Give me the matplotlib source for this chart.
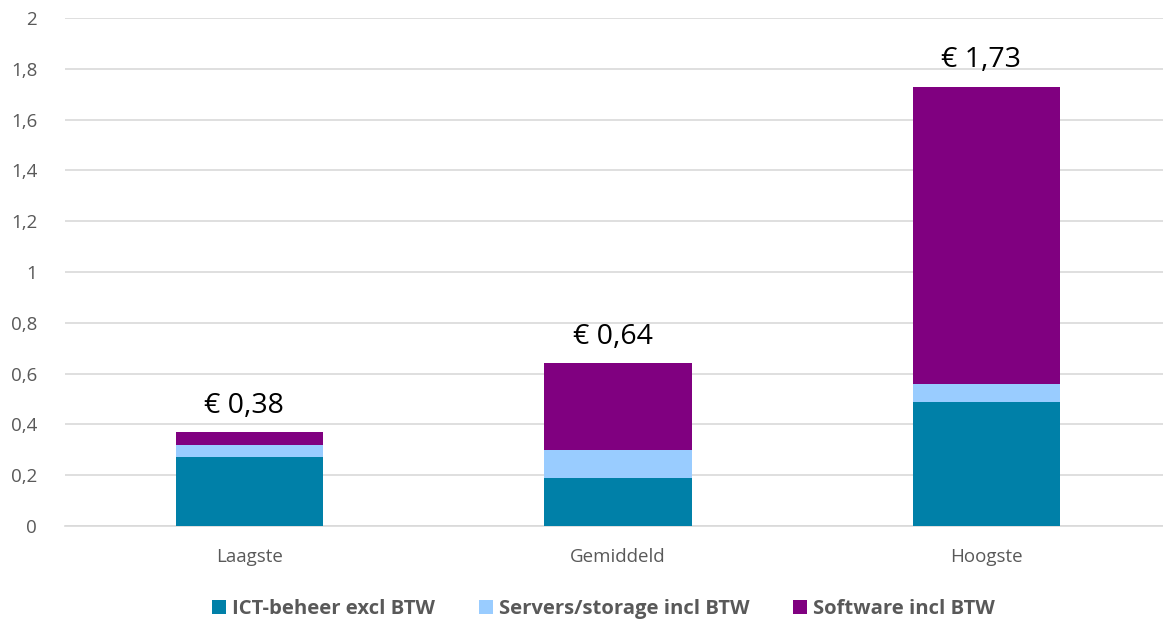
import matplotlib.pyplot as plt
import matplotlib.ticker as ticker
import numpy as np

plt.rcParams['font.family'] = ['Open Sans', 'DejaVu Sans']

# data
categories = ["Laagste", "Gemiddeld", "Hoogste"]
ict_beheer = [0.27, 0.19, 0.49]
servers = [0.05, 0.11, 0.07]
software = [0.05, 0.34, 1.17]
totals_text = ["€ 0,38", "€ 0,64", "€ 1,73"]
series_names = ["ICT-beheer excl BTW", "Servers/storage incl BTW", "Software incl BTW"]
colors = ["#0080A8", "#99CCFF", "#800080"]

fig = plt.figure(figsize=(11.63, 6.21), dpi=100, facecolor="white")
ax = fig.add_axes([65 / 1163, 1 - 526 / 621, 1106 / 1163, 508 / 621])

x = np.arange(len(categories))
bottom = np.zeros(len(categories))
handles = []
for vals, name, col in zip([ict_beheer, servers, software], series_names, colors):
    b = ax.bar(x, vals, width=0.4, bottom=bottom, color=col, label=name, zorder=3)
    handles.append(b)
    bottom = bottom + np.array(vals)

for xi, top, txt in zip(x, bottom, totals_text):
    ax.annotate(txt, (xi, top), xytext=(-4, 9), textcoords="offset points",
                ha="center", va="bottom", fontsize=20.5, color="black", zorder=4)

ax.set_xlim(-0.5, 2.5)
ax.set_ylim(0, 2)
ax.yaxis.set_major_locator(ticker.MultipleLocator(0.2))
ax.yaxis.set_major_formatter(ticker.FuncFormatter(
    lambda v, p: ("%.1f" % v).rstrip("0").rstrip(".").replace(".", ",") if v else "0"))
ax.set_xticks(x)
ax.set_xticklabels(categories)
ax.grid(axis="y", color="#D9D9D9", linewidth=1.2, zorder=0)
for s in ["top", "right", "left"]:
    ax.spines[s].set_visible(False)
ax.spines["bottom"].set_color("#D9D9D9")
ax.spines["bottom"].set_linewidth(1.2)
ax.tick_params(axis="both", length=0, labelsize=13.5, colors="#595959")
ax.tick_params(axis="y", pad=20)
ax.tick_params(axis="x", pad=16)

leg = fig.legend(handles=handles, loc="center", bbox_to_anchor=(0.519, 1 - 609 / 621),
                 ncol=3, frameon=False, handlelength=0.69, handleheight=0.69,
                 handletextpad=0.3, columnspacing=2.15,
                 prop={"size": 14.6, "weight": "bold"})
for t in leg.get_texts():
    t.set_color("#595959")

fig.savefig("out.png", dpi=100)
